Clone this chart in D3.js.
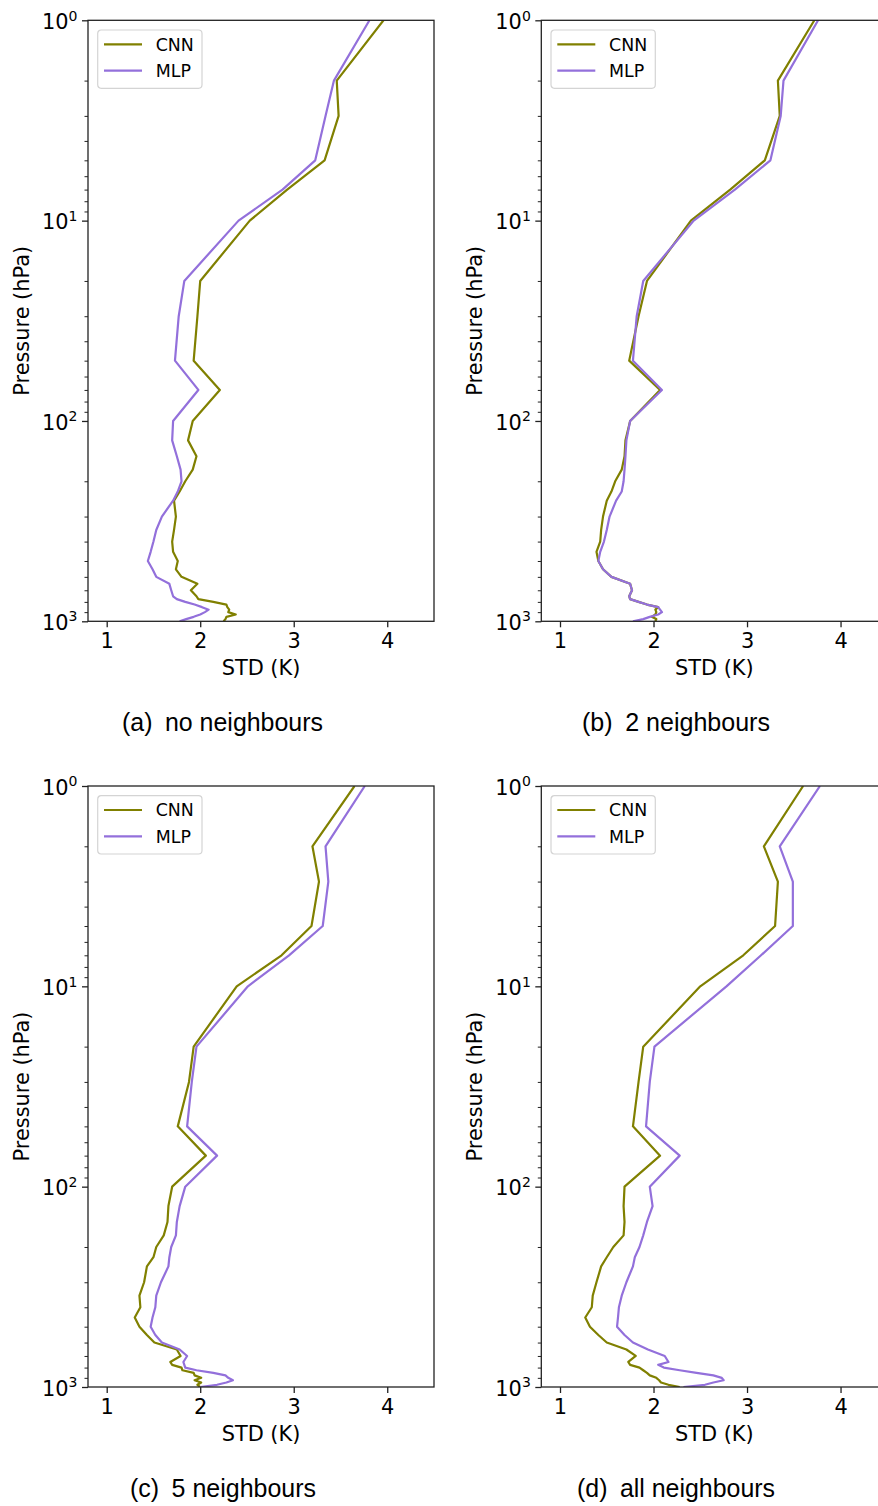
<!DOCTYPE html>
<html>
<head>
<meta charset="utf-8">
<script src="https://cdn.jsdelivr.net/npm/d3@7"></script>
<style>
  html, body { margin: 0; padding: 0; background: #fff; }
  svg { display: block; }
</style>
</head>
<body>
<svg id="fig" width="878" height="1506"></svg>
<script>
// Pressure levels (hPa)
const levels = [1, 2, 3, 5, 7, 10, 20, 30, 50, 70, 100, 125, 150, 175, 200, 225, 250,
  300, 350, 400, 450, 500, 550, 600, 650, 700, 750, 775, 800, 825, 850, 875, 900, 925, 950, 975, 1000];

// STD (K) per level, CNN vs MLP, for each neighbour setting
const cnnNone = [3.96, 3.46, 3.48, 3.33, 2.93, 2.53, 2.00, 1.97, 1.93, 2.21, 1.92, 1.87, 1.96, 1.92, 1.84, 1.78, 1.72,
  1.74, 1.72, 1.70, 1.71, 1.76, 1.74, 1.80, 1.97, 1.90, 1.96, 1.98, 2.14, 2.28, 2.29, 2.31, 2.30, 2.38, 2.28, 2.27, 2.25];
const mlpNone = [3.81, 3.43, 3.34, 3.23, 2.88, 2.41, 1.83, 1.77, 1.73, 1.98, 1.71, 1.70, 1.75, 1.79, 1.80, 1.76, 1.71,
  1.59, 1.53, 1.50, 1.47, 1.44, 1.49, 1.53, 1.67, 1.69, 1.71, 1.75, 1.84, 1.94, 2.02, 2.09, 2.05, 2.00, 1.93, 1.85, 1.78];

const cnn2 = [3.72, 3.33, 3.35, 3.19, 2.82, 2.40, 1.93, 1.84, 1.74, 2.07, 1.75, 1.70, 1.69, 1.66, 1.59, 1.55, 1.50,
  1.46, 1.44, 1.43, 1.39, 1.41, 1.46, 1.55, 1.75, 1.77, 1.74, 1.75, 1.84, 1.93, 2.05, 2.02, 2.03, 2.02, 1.98, 2.03, 2.02];
const mlp2 = [3.76, 3.39, 3.36, 3.25, 2.87, 2.43, 1.89, 1.82, 1.78, 2.09, 1.75, 1.71, 1.70, 1.69, 1.68, 1.66, 1.60,
  1.53, 1.50, 1.47, 1.43, 1.41, 1.46, 1.55, 1.75, 1.77, 1.74, 1.75, 1.84, 1.93, 2.05, 2.07, 2.09, 2.05, 1.96, 1.89, 1.78];

const cnn5 = [3.65, 3.20, 3.27, 3.19, 2.87, 2.39, 1.93, 1.88, 1.76, 2.06, 1.70, 1.66, 1.65, 1.61, 1.53, 1.50, 1.43,
  1.40, 1.35, 1.36, 1.30, 1.35, 1.43, 1.51, 1.75, 1.79, 1.68, 1.70, 1.80, 1.81, 1.93, 1.94, 2.01, 1.94, 2.01, 1.97, 2.00];
const mlp5 = [3.76, 3.34, 3.37, 3.31, 2.95, 2.51, 1.96, 1.91, 1.86, 2.18, 1.84, 1.78, 1.75, 1.74, 1.69, 1.67, 1.66,
  1.58, 1.53, 1.52, 1.49, 1.47, 1.52, 1.59, 1.78, 1.86, 1.82, 1.83, 1.84, 1.96, 2.14, 2.27, 2.30, 2.35, 2.28, 2.18, 2.00];

const cnnAll = [3.60, 3.18, 3.33, 3.30, 2.96, 2.50, 1.89, 1.84, 1.78, 2.07, 1.69, 1.68, 1.69, 1.68, 1.57, 1.50, 1.44,
  1.39, 1.35, 1.34, 1.27, 1.32, 1.41, 1.50, 1.71, 1.81, 1.73, 1.75, 1.85, 1.89, 1.93, 1.96, 2.03, 2.06, 2.08, 2.16, 2.28];
const mlpAll = [3.78, 3.35, 3.49, 3.49, 3.15, 2.78, 2.01, 1.96, 1.92, 2.28, 1.96, 1.99, 1.93, 1.89, 1.85, 1.80, 1.78,
  1.71, 1.66, 1.63, 1.62, 1.61, 1.69, 1.78, 1.94, 2.12, 2.16, 2.05, 2.11, 2.28, 2.46, 2.64, 2.73, 2.75, 2.64, 2.55, 2.32];

const captions = ["(a)\u2002no neighbours", "(b)\u20022 neighbours", "(c)\u20025 neighbours", "(d)\u2002all neighbours"];
const seriesNames = ["CNN", "MLP"];
const xTicks = [1, 2, 3, 4];
const yMajorExps = [0, 1, 2, 3];

const colors = { CNN: "#808000", MLP: "#9370db" };

const panels = [
  { cnn: cnnNone, mlp: mlpNone, left: 88, top: 20.3, caption: captions[0], capX: 122, capW: 201, capY: 731 },
  { cnn: cnn2, mlp: mlp2, left: 541.3, top: 20.3, caption: captions[1], capX: 582, capW: 188, capY: 731 },
  { cnn: cnn5, mlp: mlp5, left: 88, top: 786, caption: captions[2], capX: 130, capW: 186, capY: 1497 },
  { cnn: cnnAll, mlp: mlpAll, left: 541.3, top: 786, caption: captions[3], capX: 577, capW: 198, capY: 1497 }
];

const W = 346, H = 601;
const tickFont = "20.9px";
const svg = d3.select("#fig");
const fontFamily = "'DejaVu Sans', sans-serif";

panels.forEach((p, i) => {
  const g = svg.append("g").attr("transform", `translate(${p.left},${p.top})`);
  const x = d3.scaleLinear().domain([0.8, 4.5]).range([0, W]);
  const y = d3.scaleLog().domain([1, 1000]).range([0, H]);

  const clipId = "clip" + i;
  g.append("clipPath").attr("id", clipId)
    .append("rect").attr("x", 0).attr("y", 0).attr("width", W).attr("height", H);

  // Series lines
  const line = d3.line().x(d => x(d.v)).y(d => y(d.p));
  [["CNN", p.cnn], ["MLP", p.mlp]].forEach(([name, vals]) => {
    const pts = levels.map((lv, k) => ({ p: lv, v: vals[k] }));
    g.append("path")
      .datum(pts)
      .attr("clip-path", `url(#${clipId})`)
      .attr("fill", "none")
      .attr("stroke", colors[name])
      .attr("stroke-width", 2.2)
      .attr("stroke-linejoin", "round")
      .attr("d", line);
  });

  // Minor y ticks
  const minors = [];
  for (let e = 0; e < 3; e++) for (let m = 2; m <= 9; m++) minors.push(m * Math.pow(10, e));
  const yMinor = g.append("g").call(d3.axisLeft(y).tickValues(minors).tickSize(3.5).tickFormat(""));
  yMinor.select(".domain").remove();
  yMinor.selectAll(".tick line").attr("stroke", "#222").attr("stroke-width", 1);

  // Major y ticks with 10^n labels
  const yMajor = g.append("g").call(d3.axisLeft(y).tickValues(yMajorExps.map(e => Math.pow(10, e))).tickSize(6).tickFormat(""));
  yMajor.select(".domain").remove();
  yMajor.selectAll(".tick line").attr("stroke", "#222").attr("stroke-width", 1.3);
  yMajorExps.forEach(e => {
    const t = g.append("text")
      .attr("x", -10.5)
      .attr("y", y(Math.pow(10, e)) + 8.8)
      .attr("text-anchor", "end")
      .attr("font-family", fontFamily)
      .attr("font-size", tickFont)
      .attr("fill", "#000");
    t.append("tspan").text("10");
    t.append("tspan").attr("dy", -8.6).attr("font-size", "14px").text(String(e));
  });

  // X axis
  const xAxis = g.append("g").attr("transform", `translate(0,${H})`)
    .call(d3.axisBottom(x).tickValues(xTicks).tickSize(6).tickPadding(6).tickFormat(d3.format("d")));
  xAxis.select(".domain").remove();
  xAxis.selectAll(".tick line").attr("stroke", "#222").attr("stroke-width", 1.3);
  xAxis.selectAll(".tick text")
    .attr("font-family", fontFamily).attr("font-size", tickFont).attr("fill", "#000");

  // Frame
  g.append("rect").attr("x", 0).attr("y", 0).attr("width", W).attr("height", H)
    .attr("fill", "none").attr("stroke", "#222").attr("stroke-width", 1.3);

  // Axis labels
  g.append("text")
    .attr("x", W / 2).attr("y", H + 54)
    .attr("text-anchor", "middle")
    .attr("font-family", fontFamily).attr("font-size", tickFont)
    .text("STD (K)");
  g.append("text")
    .attr("transform", `translate(${28.5 - p.left + (p.left === 88 ? 0 : 453.3)},${H / 2}) rotate(-90)`)
    .attr("text-anchor", "middle")
    .attr("font-family", fontFamily).attr("font-size", tickFont)
    .text("Pressure (hPa)");

  // Legend
  const lg = g.append("g").attr("transform", "translate(9.7,9.7)");
  lg.append("rect").attr("x", 0).attr("y", 0).attr("width", 104.3).attr("height", 58.3)
    .attr("rx", 3.5).attr("fill", "#fff").attr("fill-opacity", 0.8)
    .attr("stroke", "#d4d4d4").attr("stroke-width", 1.2);
  seriesNames.forEach((name, k) => {
    const cy = 14.3 + k * 26.4;
    lg.append("line").attr("x1", 6.3).attr("x2", 44.3).attr("y1", cy).attr("y2", cy)
      .attr("stroke", colors[name]).attr("stroke-width", 2.2);
    lg.append("text").attr("x", 58).attr("y", cy + 6.3)
      .attr("font-family", fontFamily).attr("font-size", "17.4px").text(name);
  });

  // Sub-figure caption
  svg.append("text")
    .attr("x", p.capX).attr("y", p.capY)
    .attr("font-family", "'Liberation Sans', Arial, sans-serif")
    .attr("font-size", "25px")
    .attr("textLength", p.capW)
    .attr("lengthAdjust", "spacingAndGlyphs")
    .attr("fill", "#000")
    .text(p.caption);
});
</script>
</body>
</html>
